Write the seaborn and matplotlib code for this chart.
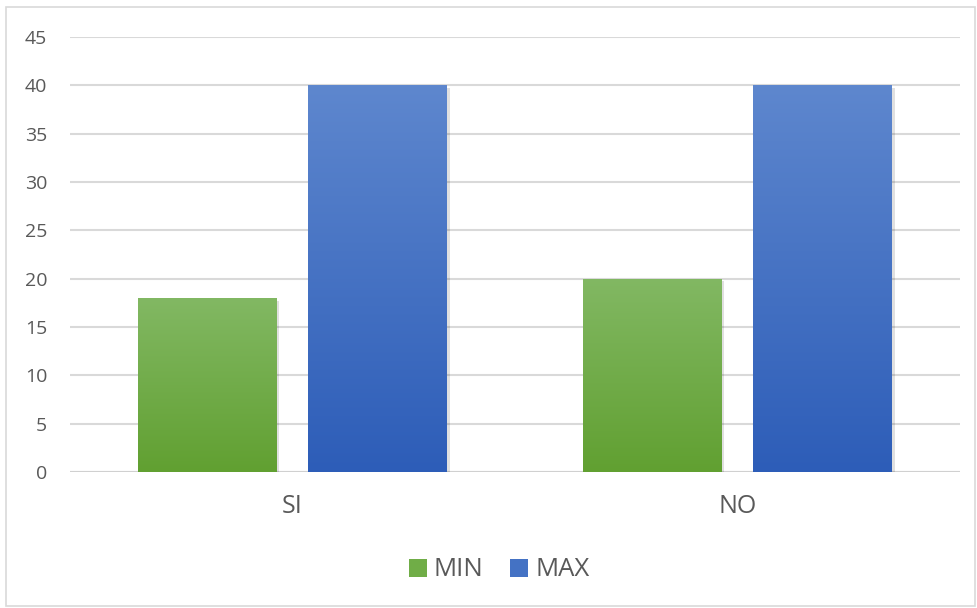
import numpy as np
import pandas as pd
import matplotlib
matplotlib.use("Agg")
import matplotlib.pyplot as plt
import seaborn as sns
from matplotlib.colors import LinearSegmentedColormap
from matplotlib.patches import Patch, Rectangle
import matplotlib.patheffects as pe

categories = ["SI", "NO"]
series = ["MIN", "MAX"]
min_values = [18, 20]
max_values = [40, 40]
y_ticks = [0, 5, 10, 15, 20, 25, 30, 35, 40, 45]

df = pd.DataFrame({
    "cat": categories * 2,
    "serie": ["MIN"] * len(categories) + ["MAX"] * len(categories),
    "val": min_values + max_values,
})

sns.set_theme(style="white")
plt.rcParams["font.family"] = ["Open Sans", "DejaVu Sans"]

fig = plt.figure(figsize=(9.77, 6.08), dpi=100)
ax = fig.add_axes([70/977, (608-472)/608, (960-70)/977, (472-37)/608])

grad = {
    "MIN": ("#82B863", "#61A031"),
    "MAX": ("#5E87CE", "#2D5DB8"),
}
mid = {"MIN": "#70AD47", "MAX": "#4472C4"}

sns.barplot(data=df, x="cat", y="val", hue="serie", hue_order=series,
            order=categories, palette=mid, width=0.768, gap=0.187,
            ax=ax, legend=False, saturation=1, zorder=3)

ax.set_ylim(0, 45)
ax.set_xlim(-0.5, 1.5)
ax.set_yticks(y_ticks)
ax.yaxis.grid(True, color="#D9D9D9", linewidth=1.5, zorder=0)
ax.set_axisbelow(True)
for s in ax.spines.values():
    s.set_visible(False)
ax.set_xlabel("")
ax.set_ylabel("")
ax.tick_params(axis="y", length=0, pad=16.5, labelsize=14, labelcolor="#595959")
ax.tick_params(axis="x", length=0, pad=16, labelsize=18, labelcolor="#595959")
ax.axhline(0, color="#D0D0D0", linewidth=1.5, zorder=2)

# gradient fill for bars
hues = series
patches = [p for p in ax.patches if isinstance(p, Rectangle) and p.get_height() > 0]
for i, p in enumerate(patches):
    h = hues[i // len(categories)]
    x0, y0 = p.get_x(), p.get_y()
    w, hh = p.get_width(), p.get_height()
    cmap = LinearSegmentedColormap.from_list("g", [grad[h][1], grad[h][0]])
    img = np.linspace(0, 1, 256).reshape(-1, 1)
    p.set_path_effects([pe.SimplePatchShadow(offset=(2, -2), shadow_rgbFace="#000000", alpha=0.12)])
    im = ax.imshow(img, extent=[x0, x0 + w, y0, y0 + hh], origin="lower",
                   cmap=cmap, aspect="auto", zorder=4, interpolation="bilinear")
    im.set_clip_path(p)
ax.set_xlim(-0.5, 1.5)
ax.set_ylim(0, 45)

handles = [Patch(facecolor=mid[s], edgecolor="none") for s in series]
fig.legend(handles, series, loc="center", bbox_to_anchor=(0.511, 1 - 570/608),
           ncol=2, frameon=False, fontsize=18.5, handlelength=0.7, handleheight=0.7,
           columnspacing=1.05, handletextpad=0.27, labelcolor="#595959")

fig.patches.append(Rectangle((6/977, 1 - 606/608), (975-6)/977, (606-7)/608,
                             transform=fig.transFigure, fill=False,
                             edgecolor="#D9D9D9", linewidth=1.2))

fig.savefig("out.png", dpi=100, facecolor="white")
